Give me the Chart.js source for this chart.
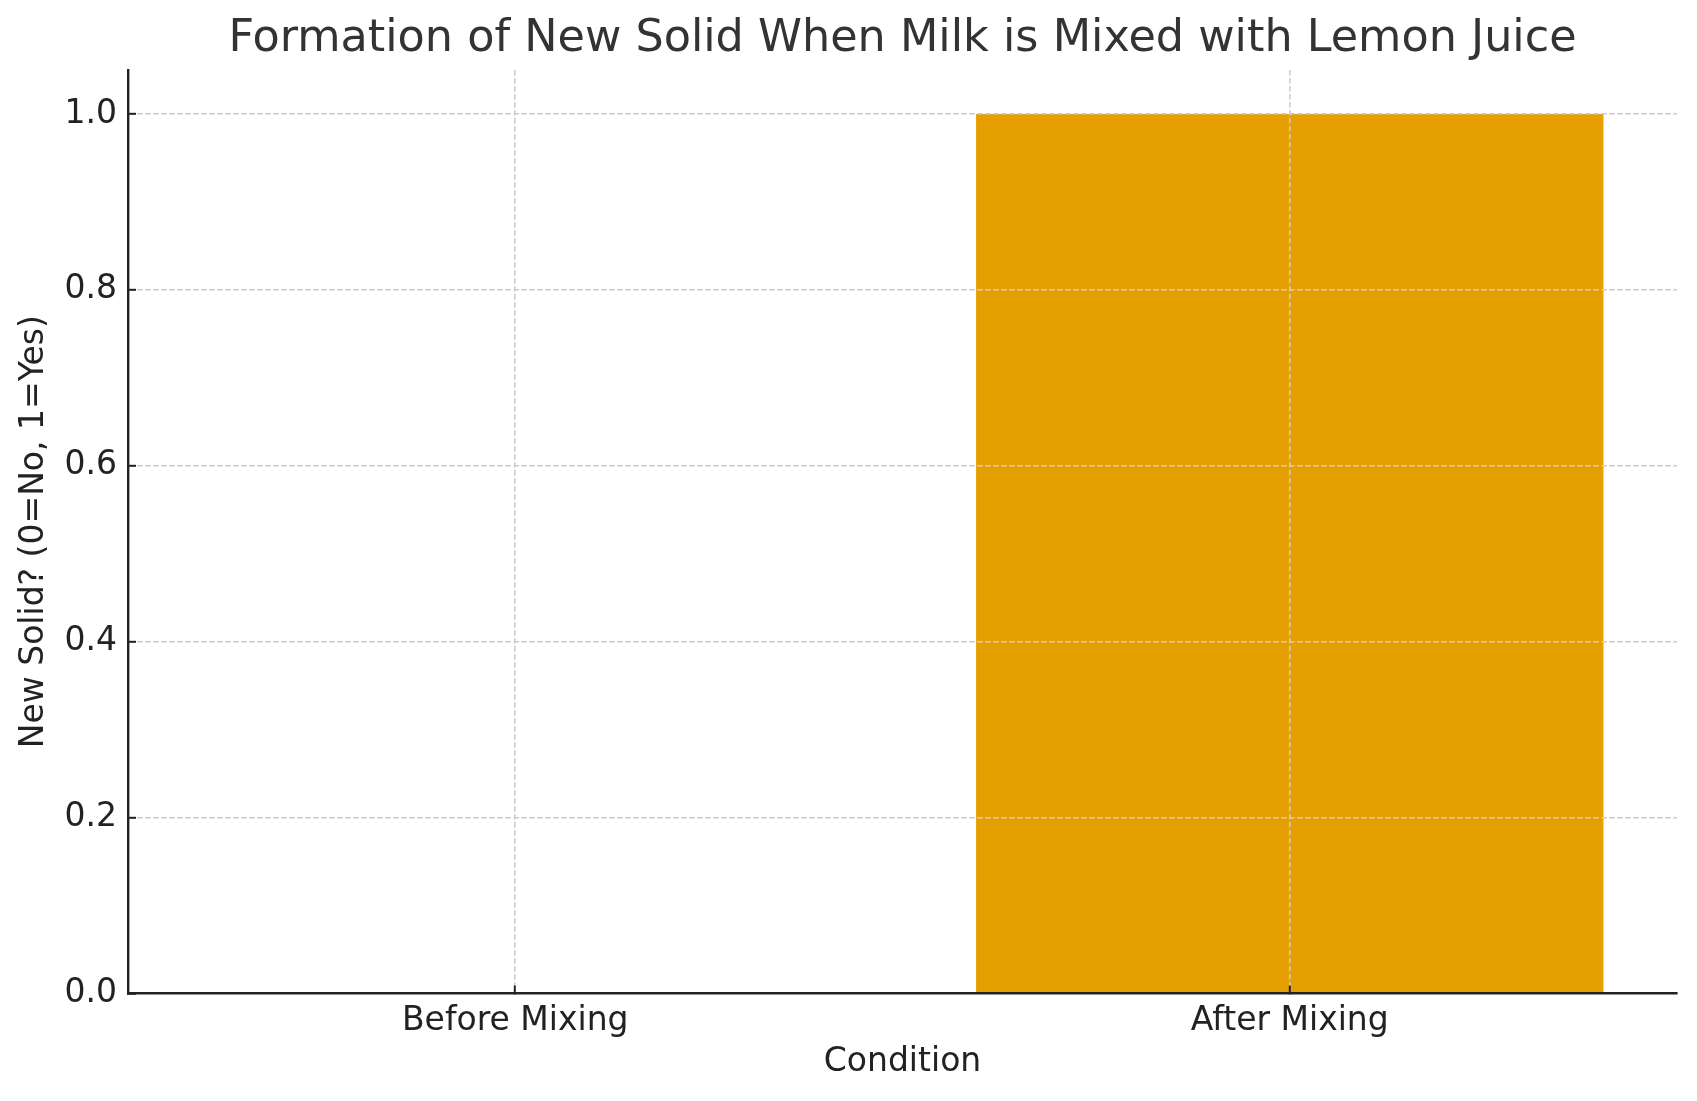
<!DOCTYPE html>
<html>
<head>
<meta charset="utf-8">
<title>Formation of New Solid</title>
<script src="https://cdn.jsdelivr.net/npm/chart.js@4.4.1/dist/chart.umd.min.js"></script>
<style>
    html, body { margin: 0; padding: 0; background: #fff; }
    #wrap { width: 1697px; height: 1101px; }
</style>
</head>
<body>
<div id="wrap"><canvas id="solidChart"></canvas></div>
<script>
// Data
const conditions = ['Before Mixing', 'After Mixing'];
const newSolid = [0, 1];
const yTicks = [0, 0.2, 0.4, 0.6, 0.8, 1.0];
const chartTitle = 'Formation of New Solid When Milk is Mixed with Lemon Juice';

const FONT = "'DejaVu Sans', sans-serif";
const gridColor = '#cccccc';
const axisColor = '#222222';
// dashed grid lines, solid spine
const gridDash = ctx => (ctx.type === 'tick' ? [5.5, 2.5] : []);

// Title centred over the plot area (not the whole canvas)
const axesTitle = {
    id: 'axesTitle',
    afterDraw(chart) {
        const { ctx, chartArea } = chart;
        ctx.save();
        ctx.fillStyle = '#333333';
        ctx.font = "44.5px 'DejaVu Sans', sans-serif";
        ctx.textAlign = 'center';
        ctx.textBaseline = 'middle';
        ctx.fillText(chartTitle, (chartArea.left + chartArea.right) / 2, 39);
        ctx.restore();
    }
};

new Chart(document.getElementById('solidChart'), {
    type: 'bar',
    data: {
        labels: conditions,
        datasets: [{
            label: 'New Solid',
            data: newSolid,
            backgroundColor: '#E69F00',
            borderWidth: 0,
            barPercentage: 0.81,
            categoryPercentage: 1.0
        }]
    },
    options: {
        responsive: true,
        maintainAspectRatio: false,
        animation: false,
        devicePixelRatio: 1,
        layout: {
            padding: { left: 0, right: 20, top: 70, bottom: 0 }
        },
        plugins: {
            legend: { display: false },
            tooltip: { enabled: false },
            title: { display: false }
        },
        scales: {
            x: {
                offset: true,
                grid: {
                    offset: false,
                    color: gridColor,
                    lineWidth: 1.6,
                    z: 1,
                    drawTicks: true,
                    tickLength: -8,
                    tickColor: axisColor,
                    tickWidth: 2
                },
                border: { display: true, color: axisColor, width: 2.4, dash: gridDash, z: 1 },
                ticks: {
                    color: axisColor,
                    font: { family: FONT, size: 33 },
                    padding: 16,
                    maxRotation: 0
                },
                title: {
                    display: true,
                    text: 'Condition',
                    color: axisColor,
                    font: { family: FONT, size: 33 },
                    padding: { top: 4, bottom: 19 }
                },
                afterFit(scale) { scale.height = 107.5; }
            },
            y: {
                min: 0,
                max: 1.05,
                afterBuildTicks(scale) {
                    scale.ticks = yTicks.map(v => ({ value: v }));
                },
                grid: {
                    color: ctx => (ctx.tick && ctx.tick.value === 0 ? 'rgba(0,0,0,0)' : gridColor),
                    lineWidth: 1.6,
                    z: 1,
                    drawTicks: true,
                    tickLength: -8,
                    tickColor: axisColor,
                    tickWidth: 2
                },
                border: { display: true, color: axisColor, width: 2.4, dash: gridDash, z: 1 },
                ticks: {
                    color: axisColor,
                    font: { family: FONT, size: 33 },
                    padding: 19,
                    callback: v => Number(v).toFixed(1)
                },
                title: {
                    display: true,
                    text: 'New Solid? (0=No, 1=Yes)',
                    color: axisColor,
                    font: { family: FONT, size: 33 },
                    padding: { top: 15, bottom: 4 }
                },
                afterFit(scale) { scale.width = 128; }
            }
        }
    },
    plugins: [axesTitle]
});
</script>
</body>
</html>
